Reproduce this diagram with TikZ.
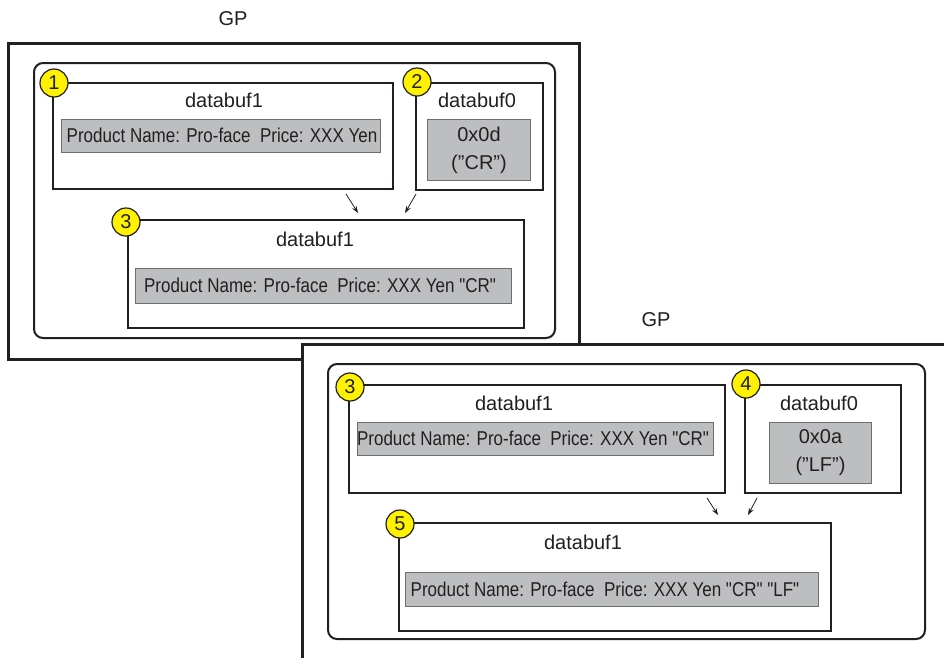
\documentclass[tikz,border=0pt]{standalone}
\usepackage{fontspec}
\setmainfont{Liberation Sans}[Ligatures=NoCommon]
\newfontfamily\narrowfont{Liberation Sans}[FakeStretch=0.85]
\usetikzlibrary{arrows.meta}
\definecolor{ink}{HTML}{231F20}
\definecolor{barfill}{HTML}{BCBEC0}
\definecolor{barline}{HTML}{6D6E71}
\definecolor{numfill}{HTML}{FFF200}
\newcommand{\dq}{\symbol{34}}
\begin{document}
\begin{tikzpicture}[x=1pt,y=-1pt,
  frame/.style={draw=ink, line width=2.6pt, fill=white, anchor=north west, inner sep=0},
  panel/.style={draw=ink, line width=2pt, rounded corners=9pt, anchor=north west, inner sep=0},
  buf/.style={draw=ink, line width=1.6pt, fill=white, anchor=north west, inner sep=0},
  bar/.style={draw=barline, line width=1pt, fill=barfill, anchor=north west, inner sep=0},
  title/.style={text=ink, inner sep=0, font=\fontsize{20}{24}\selectfont},
  bartext/.style={text=ink, inner sep=0, font=\narrowfont\fontsize{20}{24}\selectfont},
  hextext/.style={text=ink, inner sep=0, align=center, font=\fontsize{20}{28}\selectfont},
  num/.style={circle, draw=ink, line width=1.2pt, fill=numfill, minimum size=28pt, inner sep=0, text=ink, font=\fontsize{20}{24}\selectfont},
  flow/.style={draw=ink, line width=0.8pt, -{Stealth[length=7pt,width=5pt]}}
]
\clip (0,0) rectangle (944,657);
\fill[white] (0,0) rectangle (944,657);

% ---------- upper GP ----------
\node[title] (gp1) at (233,19) {GP};
\node[frame, minimum width=571pt, minimum height=316pt] (f1) at (7,42) {};
\node[panel, minimum width=521pt, minimum height=275pt] (p1) at (33,62) {};

\node[buf, minimum width=340pt, minimum height=106pt] (a1) at (52,82) {};
\node[title] (a1t) at (224,100) {databuf1};
\node[bar, minimum width=319pt, minimum height=33pt] (a1b) at (61,119) {};
\node[bartext] (a1x) at (222,135.5) {Product Name: Pro-face\ \ Price: XXX Yen};
\node[num] (n1) at (54,83) {1};

\node[buf, minimum width=127pt, minimum height=107pt] (a2) at (415,82) {};
\node[title] (a2t) at (477,100) {databuf0};
\node[bar, minimum width=103pt, minimum height=61pt] (a2b) at (427,119) {};
\node[hextext] (a2x) at (a2b.center) {0x0d\\(\dq CR\dq)};
\node[num] (n2) at (417,82) {2};

\node[buf, minimum width=396pt, minimum height=108pt] (a3) at (127,219) {};
\node[title] (a3t) at (315,239) {databuf1};
\node[bar, minimum width=376pt, minimum height=35pt] (a3b) at (135,268) {};
\node[bartext] (a3x) at (320,285.5) {Product Name: Pro-face\ \ Price: XXX Yen \dq CR\dq};
\node[num] (n3) at (126,222) {3};

\coordinate (a1o) at (346,194);
\coordinate (a1i) at (358,213);
\coordinate (a2o) at (416,194);
\coordinate (a2i) at (405,213);
\draw[flow] (a1o) -- (a1i);
\draw[flow] (a2o) -- (a2i);

% ---------- lower GP ----------
\node[title] (gp2) at (656,320) {GP};
\node[frame, minimum width=700pt, minimum height=360pt] (f2) at (301,343) {};
\node[panel, minimum width=597pt, minimum height=275pt] (p2) at (327,363) {};

\node[buf, minimum width=376pt, minimum height=108pt] (b3) at (348,384) {};
\node[title] (b3t) at (514,403) {databuf1};
\node[bar, minimum width=356pt, minimum height=33pt] (b3b) at (357,422) {};
\node[bartext] (b3x) at (533,438.5) {Product Name: Pro-face\ \ Price: XXX Yen \dq CR\dq};
\node[num] (m3) at (350,387) {3};

\node[buf, minimum width=156pt, minimum height=108pt] (b4) at (744,384) {};
\node[title] (b4t) at (819,403) {databuf0};
\node[bar, minimum width=102pt, minimum height=61pt] (b4b) at (769,422) {};
\node[hextext] (b4x) at (b4b.center) {0x0a\\(\dq LF\dq)};
\node[num] (m4) at (746,384) {4};

\node[buf, minimum width=432pt, minimum height=108pt] (b5) at (398,522) {};
\node[title] (b5t) at (583,542) {databuf1};
\node[bar, minimum width=413pt, minimum height=34pt] (b5b) at (405,572) {};
\node[bartext] (b5x) at (605,589) {Product Name: Pro-face\ \ Price: XXX Yen \dq CR\dq\ \dq LF\dq};
\node[num] (m5) at (400,524) {5};

\coordinate (b3o) at (707,498);
\coordinate (b3i) at (718,515);
\coordinate (b4o) at (757,498);
\coordinate (b4i) at (748,515);
\draw[flow] (b3o) -- (b3i);
\draw[flow] (b4o) -- (b4i);
\end{tikzpicture}
\end{document}
